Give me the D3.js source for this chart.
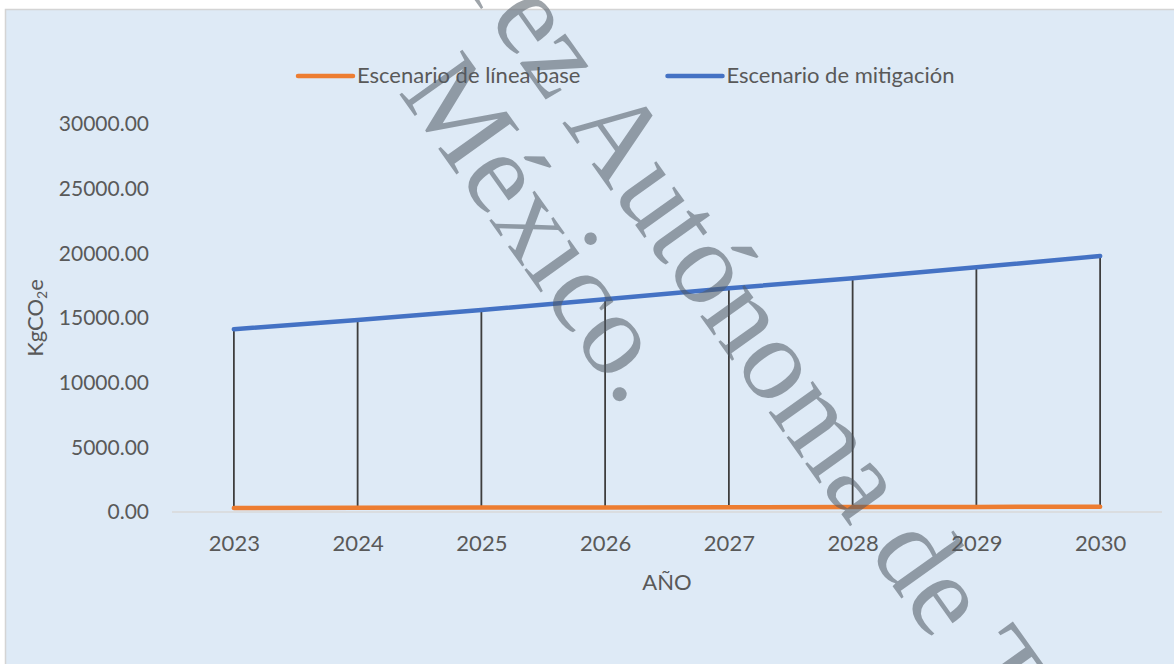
<!DOCTYPE html>
<html>
<head>
<meta charset="utf-8">
<script src="https://cdn.jsdelivr.net/npm/d3@7"></script>
<style>
  html, body { margin: 0; padding: 0; background: #ffffff; }
  svg { display: block; }
</style>
</head>
<body>
<svg id="chart"></svg>
<script>
const width = 1174,
  height = 664;

// data
const years = ["2023", "2024", "2025", "2026", "2027", "2028", "2029", "2030"];
const baseline = [310, 325, 340, 355, 370, 385, 395, 410]; // Escenario de línea base
const mitigation = [14130, 14850, 15620, 16450, 17300, 18070, 18920, 19790]; // Escenario de mitigación
const yTicks = [0, 5000, 10000, 15000, 20000, 25000, 30000];
const seriesNames = ["Escenario de línea base", "Escenario de mitigación"];
const seriesColors = ["#ED7D31", "#4472C4"];

const font = "Lato, 'Open Sans', sans-serif";
const textColor = "#595959";

const svg = d3.select("#chart").attr("width", width).attr("height", height);

// chart area background with thin border
svg.append("rect")
  .attr("x", 5.5).attr("y", 9.5)
  .attr("width", width).attr("height", height)
  .attr("fill", "#DEEAF6")
  .attr("stroke", "#d4d4d4")
  .attr("stroke-width", 1.5);

const x = d3.scalePoint().domain(years).range([172, 1162]).padding(0.5);
const y = d3.scaleLinear().domain([0, 30000]).range([512, 124]);

// y axis labels (no axis line, no gridlines)
const yAxis = d3.axisLeft(y).tickValues(yTicks).tickSize(0).tickPadding(0)
  .tickFormat(d3.format(".2f"));
svg.append("g")
  .attr("transform", "translate(149,0)")
  .call(yAxis)
  .call(g => g.select(".domain").remove())
  .call(g => g.selectAll("text")
    .attr("fill", textColor)
    .style("font-family", font)
    .style("font-size", "21px"));

// x axis
const xAxis = d3.axisBottom(x).tickSize(0).tickPadding(23);
svg.append("g")
  .attr("transform", "translate(0,512)")
  .call(xAxis)
  .call(g => g.select(".domain")
    .attr("d", "M172,0H1162")
    .attr("stroke", "#d9d9d9")
    .attr("stroke-width", 1.5))
  .call(g => g.selectAll("text")
    .attr("fill", textColor)
    .style("font-family", font)
    .style("font-size", "22px"));

// axis titles
svg.append("text")
  .attr("x", 667).attr("y", 590)
  .attr("text-anchor", "middle")
  .attr("fill", textColor)
  .style("font-family", font)
  .style("font-size", "22px")
  .text("AÑO");

const yTitle = svg.append("text")
  .attr("transform", "translate(43,318) rotate(-90)")
  .attr("text-anchor", "middle")
  .attr("fill", textColor)
  .style("font-family", font)
  .style("font-size", "22px");
yTitle.append("tspan").text("KgCO");
yTitle.append("tspan").attr("dy", 4).style("font-size", "14px").text("2");
yTitle.append("tspan").attr("dy", -4).text("e");

// high-low (drop) lines
svg.append("g")
  .selectAll("line")
  .data(years)
  .join("line")
  .attr("x1", d => x(d)).attr("x2", d => x(d))
  .attr("y1", (d, i) => y(baseline[i]))
  .attr("y2", (d, i) => y(mitigation[i]))
  .attr("stroke", "#3d3d3d")
  .attr("stroke-width", 1.8);

// series lines
const line = d3.line()
  .x((d, i) => x(years[i]))
  .y(d => y(d));

[baseline, mitigation].forEach((values, k) => {
  svg.append("path")
    .datum(values)
    .attr("d", line)
    .attr("fill", "none")
    .attr("stroke", seriesColors[k])
    .attr("stroke-width", 4.5)
    .attr("stroke-linecap", "round")
    .attr("stroke-linejoin", "round");
});

// legend
const legendX = [298, 667.5];
const legend = svg.append("g");
seriesNames.forEach((name, k) => {
  legend.append("line")
    .attr("x1", legendX[k]).attr("x2", legendX[k] + 55)
    .attr("y1", 76).attr("y2", 76)
    .attr("stroke", seriesColors[k])
    .attr("stroke-width", 4.5)
    .attr("stroke-linecap", "round");
  legend.append("text")
    .attr("x", legendX[k] + 59).attr("y", 83)
    .attr("fill", textColor)
    .style("font-family", font)
    .style("font-size", "22px")
    .text(name);
});

// watermark over the chart
const wmSize = 118,
  wmAngle = 54.5;
const wm = svg.append("g")
  .attr("fill", "#505a64")
  .attr("opacity", 0.55)
  .style("font-family", "'Liberation Serif', 'DejaVu Serif', serif")
  .style("font-size", wmSize + "px");

// put the centre of one letter of a rotated text on a given point
function pinLetter(text, index, px, py) {
  const node = text.node();
  const lx = node.getSubStringLength(0, index) + node.getSubStringLength(index, 1) / 2;
  const ly = -0.23 * wmSize;
  const a = (wmAngle * Math.PI) / 180;
  const rx = lx * Math.cos(a) - ly * Math.sin(a);
  const ry = lx * Math.sin(a) + ly * Math.cos(a);
  text.attr("transform", `translate(${px - rx},${py - ry}) rotate(${wmAngle})`);
}

const wm1 = wm.append("text").text("Universidad Juárez Autónoma de Tabasco.");
pinLetter(wm1, wm1.text().indexOf("noma") + 2, 816, 432);

const wm2 = wm.append("text").text("México.");
pinLetter(wm2, 2, 528, 228);
</script>
</body>
</html>
